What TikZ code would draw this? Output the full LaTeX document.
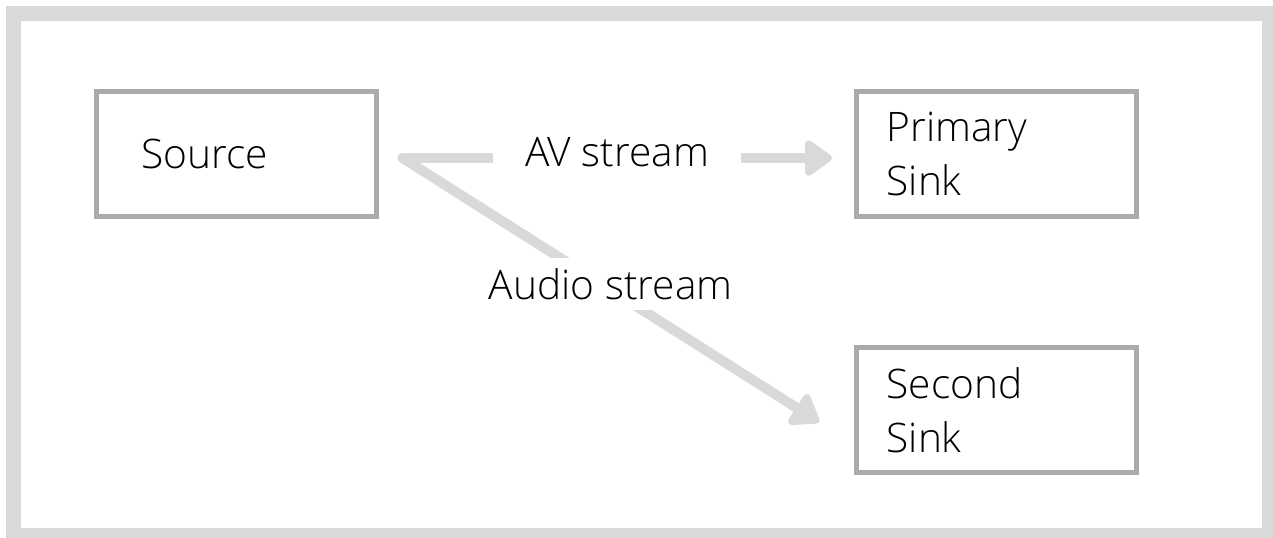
\documentclass[tikz,border=0pt]{standalone}
\usepackage{fontspec}
\IfFontExistsTF{Open Sans Light}{\setmainfont{Open Sans Light}}{\setmainfont{Open Sans}}
\usetikzlibrary{arrows.meta,calc}
\definecolor{framegray}{HTML}{D9D9D9}
\definecolor{flowgray}{HTML}{D9D9D9}
\definecolor{boxgray}{HTML}{ABABAB}

\begin{document}
\begin{tikzpicture}[x=0.75pt, y=-0.75pt,
    box/.style={draw=boxgray, line width=3.75pt, minimum width=210pt, minimum height=93.75pt, align=left},
    flow/.style={draw=flowgray, line width=7.5pt, line cap=round, -{Triangle[length=22.5pt,width=30pt,round]}},
    lbl/.style={fill=white, inner xsep=24pt, inner ysep=8pt, yshift=4.5pt},
    font=\fontsize{30.5}{40.5}\selectfont]
    \useasboundingbox (0,0) rectangle (1273,537);
    \draw[framegray, line width=11.25pt] (13.5,13.5) rectangle (1269.5,535.5);

    \node[box, inner xsep=34pt, text width=142pt] (src) at (236,154) {Source};
    \node[box, inner xsep=22.6pt, text width=164.8pt] (prim) at (996.5,153.5) {Primary\\Sink};
    \node[box, inner xsep=22.6pt, text width=164.8pt] (sec) at (996.5,410) {Second\\Sink};

    \draw[flow] ($(src.east)+(24,4)$) -- node[lbl] {AV stream} ($(prim.west)+(-22,4.5)$);
    \draw[flow] ($(src.east)+(24,4)$) -- node[lbl] {Audio stream} ($(sec.west)+(-35,12)$);
\end{tikzpicture}
\end{document}
